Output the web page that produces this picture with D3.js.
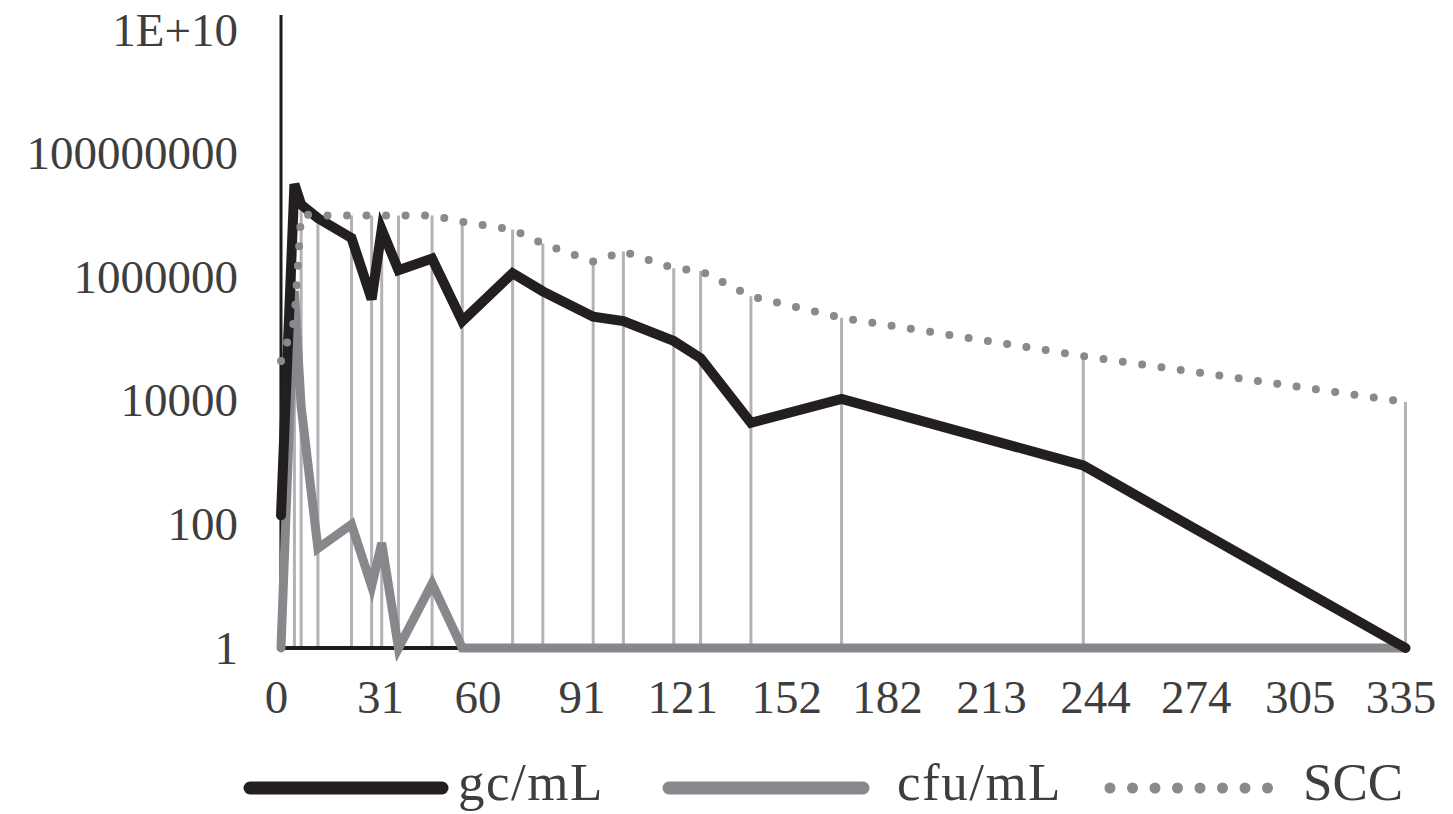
<!DOCTYPE html>
<html>
<head>
<meta charset="utf-8">
<script src="https://cdn.jsdelivr.net/npm/d3@7"></script>
<style>
  body { margin: 0; background: #fff; }
  svg text { font-family: "Liberation Serif", "DejaVu Serif", serif; fill: #3e3e3e; }
</style>
</head>
<body>
<div class="chart"></div>
<script>
"use strict";

// sampling days
var days = [0, 4, 6, 11, 21, 27, 30, 35, 45, 54, 69, 78, 93, 102, 117, 125, 140, 167, 239, 335];

// series (log scale)
var gcValues  = [140, 3.2e7, 1.5e7, 9e6, 4.3e6, 4.4e5, 5.9e6, 1.3e6, 2e6, 1.95e5,
                 1.16e6, 5.9e5, 2.3e5, 1.95e5, 9.3e4, 4.9e4, 4.4e3, 1.07e4, 900, 1];
var cfuValues = [1, 6e5, 8000, 41, 100, 10, 50, 1, 11, 1,
                 1, 1, 1, 1, 1, 1, 1, 1, 1, 1];
var sccValues = [4.4e4, 2e5, 1.04e7, 1e7, 1e7, 1e7, 1e7, 1e7, 1e7, 7.9e6,
                 5.9e6, 3.5e6, 1.8e6, 2.6e6, 1.4e6, 1.26e6, 4.9e5, 2.2e5, 5.3e4, 9.6e3];

var xTicks = [0, 31, 60, 91, 121, 152, 182, 213, 244, 274, 305, 335];
var yTicks = [1, 100, 10000, 1000000, 100000000, 1e10];
var yTickLabels = ["1", "100", "10000", "1000000", "100000000", "1E+10"];
var seriesNames = ["gc/mL", "cfu/mL", "SCC"];

var width = 1453,
    height = 814;

var svg = d3.select(".chart")
            .append("svg")
            .attr("width", width)
            .attr("height", height);

var x = d3.scaleLinear()
    .domain([0, 335])
    .range([281, 1405.5]);

var y = d3.scaleLog()
    .domain([1, 1e10])
    .range([648, 30]);

// drop lines
var tops = days.map(function(d, i){
  return Math.max(gcValues[i], cfuValues[i], sccValues[i]);
});

svg.append("g")
   .selectAll("line")
   .data(days)
   .enter().append("line")
      .attr("x1", function(d){ return x(d); })
      .attr("x2", function(d){ return x(d); })
      .attr("y1", function(d, i){ return y(tops[i]); })
      .attr("y2", y(1))
      .style("stroke", "#b3b3b7")
      .style("stroke-width", 3);

// axes
svg.append("line")
   .attr("x1", x(0)).attr("x2", x(335))
   .attr("y1", y(1)).attr("y2", y(1))
   .style("stroke", "#1e1b1c")
   .style("stroke-width", 4);

svg.append("line")
   .attr("x1", x(0)).attr("x2", x(0))
   .attr("y1", 15).attr("y2", y(1))
   .style("stroke", "#1e1b1c")
   .style("stroke-width", 3);

var yAxis = svg.append("g")
   .attr("transform", "translate(" + x(0) + ",0)")
   .call(d3.axisLeft(y)
      .tickValues(yTicks)
      .tickFormat(function(d, i){ return yTickLabels[i]; })
      .tickSize(0)
      .tickPadding(43));
yAxis.select(".domain").remove();
yAxis.selectAll("text")
   .style("font-size", "47px")
   .style("font-family", "Liberation Serif")
   .attr("fill", "#3e3e3e");

var xAxis = svg.append("g")
   .attr("transform", "translate(-5," + y(1) + ")")
   .call(d3.axisBottom(x)
      .tickValues(xTicks)
      .tickFormat(d3.format("d"))
      .tickSize(0)
      .tickPadding(32));
xAxis.select(".domain").remove();
xAxis.selectAll("text")
   .style("font-size", "47px")
   .style("font-family", "Liberation Serif")
   .attr("fill", "#3e3e3e");

// series
function lineFor(values){
  return d3.line()
    .x(function(d){ return x(d); })
    .y(function(d, i){ return y(values[i]); })(days);
}

svg.append("path")
   .attr("d", lineFor(cfuValues))
   .attr("fill", "none")
   .style("stroke", "#88888c")
   .style("stroke-width", 9)
   .style("stroke-linejoin", "miter")
   .style("stroke-linecap", "round");

svg.append("path")
   .attr("d", lineFor(gcValues))
   .attr("fill", "none")
   .style("stroke", "#231f20")
   .style("stroke-width", 10)
   .style("stroke-linejoin", "miter")
   .style("stroke-linecap", "round");

svg.append("path")
   .attr("d", lineFor(sccValues))
   .attr("fill", "none")
   .style("stroke", "#8a8a8e")
   .style("stroke-width", 8)
   .style("stroke-dasharray", "0 19.5")
   .style("stroke-linecap", "round");

// legend
var legendY = 788;
var legend = [
  { name: seriesNames[0], x1: 250, x2: 442, tx: 458, color: "#231f20", dash: null },
  { name: seriesNames[1], x1: 669, x2: 863, tx: 897, color: "#88888c", dash: null },
  { name: seriesNames[2], x1: 1110, x2: 1290, tx: 1303, color: "#8a8a8e", dash: "0 22.5" }
];

var lg = svg.append("g").selectAll("g").data(legend).enter().append("g");

lg.append("line")
  .attr("x1", function(d){ return d.x1; })
  .attr("x2", function(d){ return d.x2; })
  .attr("y1", legendY).attr("y2", legendY)
  .style("stroke", function(d){ return d.color; })
  .style("stroke-width", function(d){ return d.dash ? 11 : 13; })
  .style("stroke-dasharray", function(d){ return d.dash; })
  .style("stroke-linecap", "round");

lg.append("text")
  .attr("x", function(d){ return d.tx; })
  .attr("y", 800)
  .style("font-size", "53px")
  .style("letter-spacing", function(d){ return d.dash ? "0px" : "1.5px"; })
  .text(function(d){ return d.name; });
</script>
</body>
</html>
